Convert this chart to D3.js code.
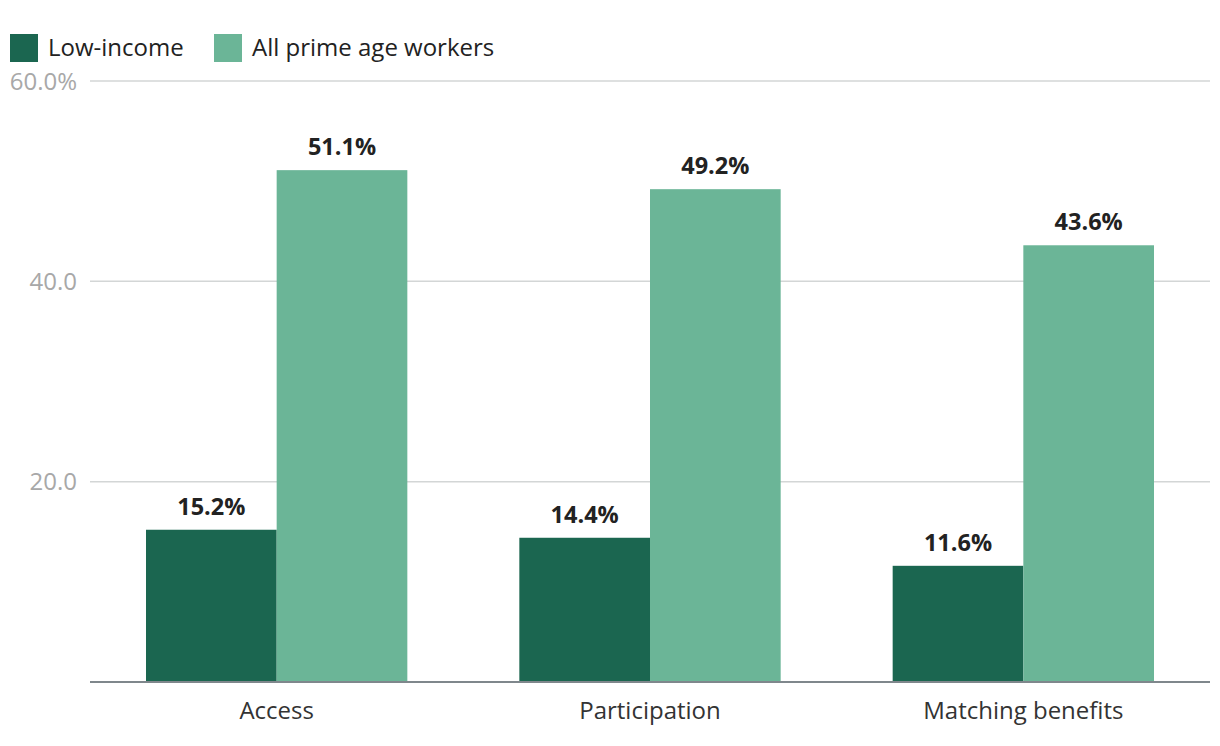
<!DOCTYPE html>
<html><head><meta charset="utf-8">
<script src="https://cdn.jsdelivr.net/npm/d3@7"></script>
<style>body{margin:0;background:#fff;font-family:"Open Sans",sans-serif;}</style>
</head><body><svg id="c" width="1220" height="746"></svg>
<script>
const categories = ["Access", "Participation", "Matching benefits"];
const seriesNames = ["Low-income", "All prime age workers"];
const lowIncome = [15.2, 14.4, 11.6];
const allWorkers = [51.1, 49.2, 43.6];
const yTicks = [20, 40, 60];
const colors = ["#1b6650", "#6bb597"];

const svg = d3.select("#c");
const m = {left: 90, right: 1210, top: 81, bottom: 682};
const x0 = d3.scaleBand().domain(categories).range([m.left, m.right]).padding(0);
const x1 = d3.scaleBand().domain(seriesNames).range([0, x0.bandwidth()*0.7]).padding(0);
const y = d3.scaleLinear().domain([0, 60]).range([m.bottom, m.top]);
const off = x0.bandwidth()*0.15;

// grid
svg.append("g").selectAll("line").data(yTicks).join("line")
  .attr("x1", m.left).attr("x2", m.right)
  .attr("y1", d => y(d)).attr("y2", d => y(d))
  .attr("stroke", "#d3d6d6").attr("stroke-width", 1.5);
svg.append("g").selectAll("text").data(yTicks).join("text")
  .attr("x", 77).attr("y", d => y(d)+8.5).attr("text-anchor", "end")
  .attr("font-size", 24).attr("fill", "#a8a8a8")
  .text(d => d === 60 ? d.toFixed(1) + "%" : d.toFixed(1));

const data = categories.map((c, i) => ({c, vals: [lowIncome[i], allWorkers[i]]}));
const g = svg.append("g").selectAll("g").data(data).join("g")
  .attr("transform", d => `translate(${x0(d.c)+off},0)`);
g.selectAll("rect").data(d => d.vals.map((v, j) => ({v, s: seriesNames[j], j}))).join("rect")
  .attr("x", d => x1(d.s)).attr("width", x1.bandwidth())
  .attr("y", d => y(d.v)).attr("height", d => y(0) - y(d.v))
  .attr("fill", d => colors[d.j]);
g.selectAll("text").data(d => d.vals.map((v, j) => ({v, s: seriesNames[j], j}))).join("text")
  .attr("x", d => x1(d.s) + x1.bandwidth()/2).attr("y", d => y(d.v) - 15)
  .attr("text-anchor", "middle").attr("font-size", 23.5).attr("font-weight", 700)
  .attr("fill", "#222").text(d => d.v.toFixed(1) + "%");

// baseline
svg.append("line").attr("x1", m.left).attr("x2", m.right)
  .attr("y1", y(0)).attr("y2", y(0)).attr("stroke", "#7f878c").attr("stroke-width", 2);

// category axis labels
svg.append("g").selectAll("text").data(categories).join("text")
  .attr("x", d => x0(d) + x0.bandwidth()/2).attr("y", 719)
  .attr("text-anchor", "middle").attr("font-size", 24).attr("fill", "#333").text(d => d);

// legend
const lx = [10, 214];
const leg = svg.append("g").selectAll("g").data(seriesNames).join("g")
  .attr("transform", (d, i) => `translate(${lx[i]},34)`);
leg.append("rect").attr("width", 28).attr("height", 28).attr("fill", (d, i) => colors[i]);
leg.append("text").attr("x", 38).attr("y", 21.5).attr("font-size", 24).attr("fill", "#222").text(d => d);
</script></body></html>
